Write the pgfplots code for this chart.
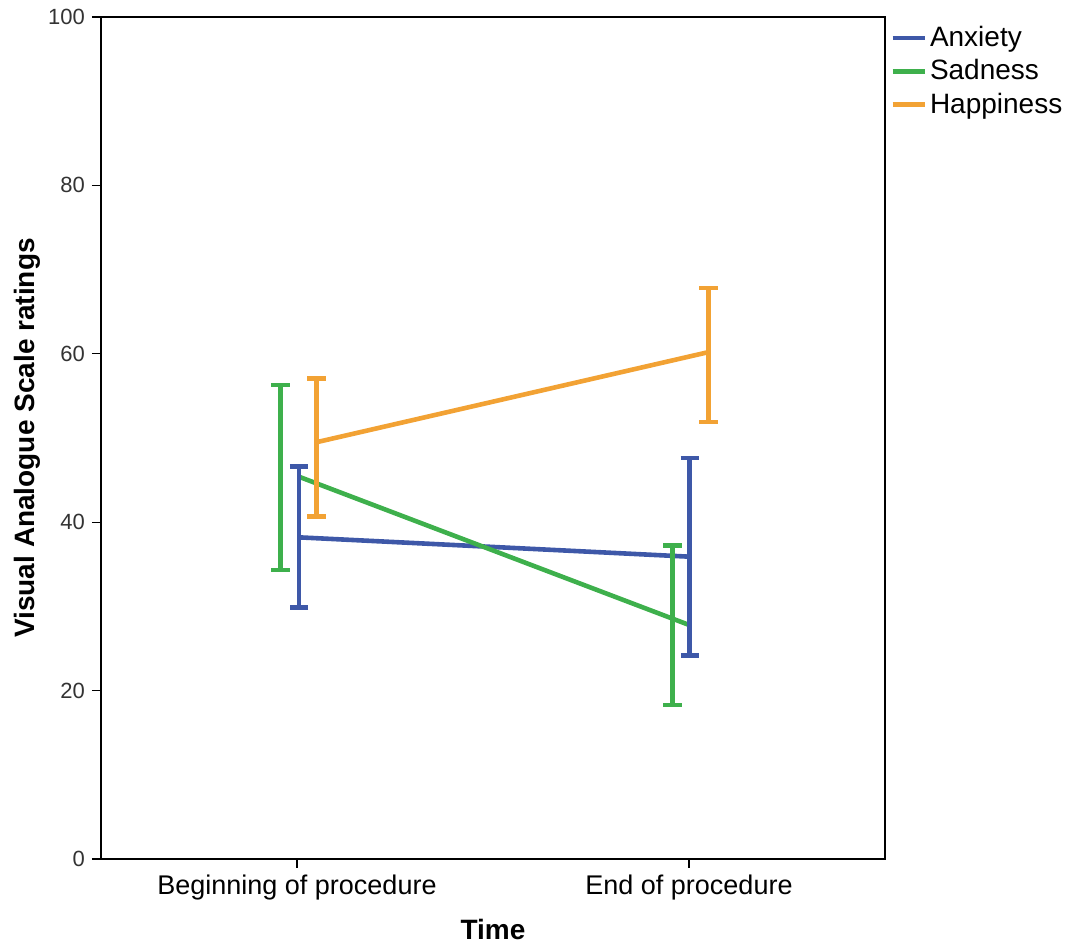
\documentclass[border=0pt]{standalone}
\usepackage{fontspec}
\setmainfont{Liberation Sans}
\usepackage{pgfplots}
\pgfplotsset{compat=1.18}
\usetikzlibrary{calc}
\definecolor{cA}{RGB}{62,88,168}
\definecolor{cS}{RGB}{62,176,76}
\definecolor{cH}{RGB}{242,162,52}
\begin{document}
\begin{tikzpicture}
\begin{axis}[
  scale only axis, width=392pt, height=421pt,
  xmin=-0.5, xmax=1.5, ymin=0, ymax=100,
  xtick={0,1}, xticklabels={Beginning of procedure, End of procedure},
  ytick={0,20,...,100},
  xtick pos=bottom, ytick pos=left,
  tick align=outside, major tick length=4.5pt,
  tick style={black, line width=0.6pt},
  axis line style={line width=0.8pt},
  x tick label style={font=\fontsize{13.5}{16}\selectfont},
  y tick label style={font=\fontsize{11}{13}\selectfont, text=black!80},
  /pgf/number format/assume math mode=true,
  xlabel={Time}, ylabel={Visual Analogue Scale ratings},
  label style={font=\bfseries\fontsize{14}{17}\selectfont},
  xlabel style={yshift=-2.5pt},
  ylabel style={yshift=-3pt},
  legend style={at={(1,1)}, anchor=north west, draw=none, fill=none,
    font=\fontsize{14}{16}\selectfont, inner sep=0pt, xshift=2.5pt, yshift=-3pt,
    row sep=2pt, nodes={inner sep=1.5pt}},
  legend cell align=left,
  legend image code/.code={\draw[#1, line width=2.3pt] (0pt,0pt) -- (16pt,0pt);},
]
\coordinate (SW) at (rel axis cs:0,0);
\coordinate (NE) at (rel axis cs:1,1);
% connecting lines
\addplot[cA, line width=2.3pt] coordinates {(0.005,38.2) (1.002,35.9)};
\addlegendentry{Anxiety}
\addplot[cS, line width=2.3pt] coordinates {(0.005,45.4) (1.0,27.8)};
\addlegendentry{Sadness}
\addplot[cH, line width=2.3pt] coordinates {(0.05,49.5) (1.05,60.2)};
\addlegendentry{Happiness}
% error bars (confidence intervals)
\addplot[forget plot, draw=none, mark=none, cA,
  error bars/.cd, y dir=both, y explicit,
  error bar style={line width=2.3pt, cA},
  error mark options={rotate=90, mark size=4.6pt, line width=2.3pt, cA}]
  coordinates {(0.005,38.25) +- (0,8.35) (1.002,35.9) +- (0,11.7)};
\addplot[forget plot, draw=none, mark=none, cS,
  error bars/.cd, y dir=both, y explicit,
  error bar style={line width=2.3pt, cS},
  error mark options={rotate=90, mark size=4.6pt, line width=2.3pt, cS}]
  coordinates {(-0.042,45.3) +- (0,11.0) (0.958,27.75) +- (0,9.45)};
\addplot[forget plot, draw=none, mark=none, cH,
  error bars/.cd, y dir=both, y explicit,
  error bar style={line width=2.3pt, cH},
  error mark options={rotate=90, mark size=4.6pt, line width=2.3pt, cH}]
  coordinates {(0.05,48.9) +- (0,8.2) (1.05,59.85) +- (0,7.95)};
\end{axis}
\pgfresetboundingbox
\path ($(SW)+(-50.5pt,-43pt)$) rectangle ($(NE)+(91pt,8.5pt)$);
\end{tikzpicture}
\end{document}
